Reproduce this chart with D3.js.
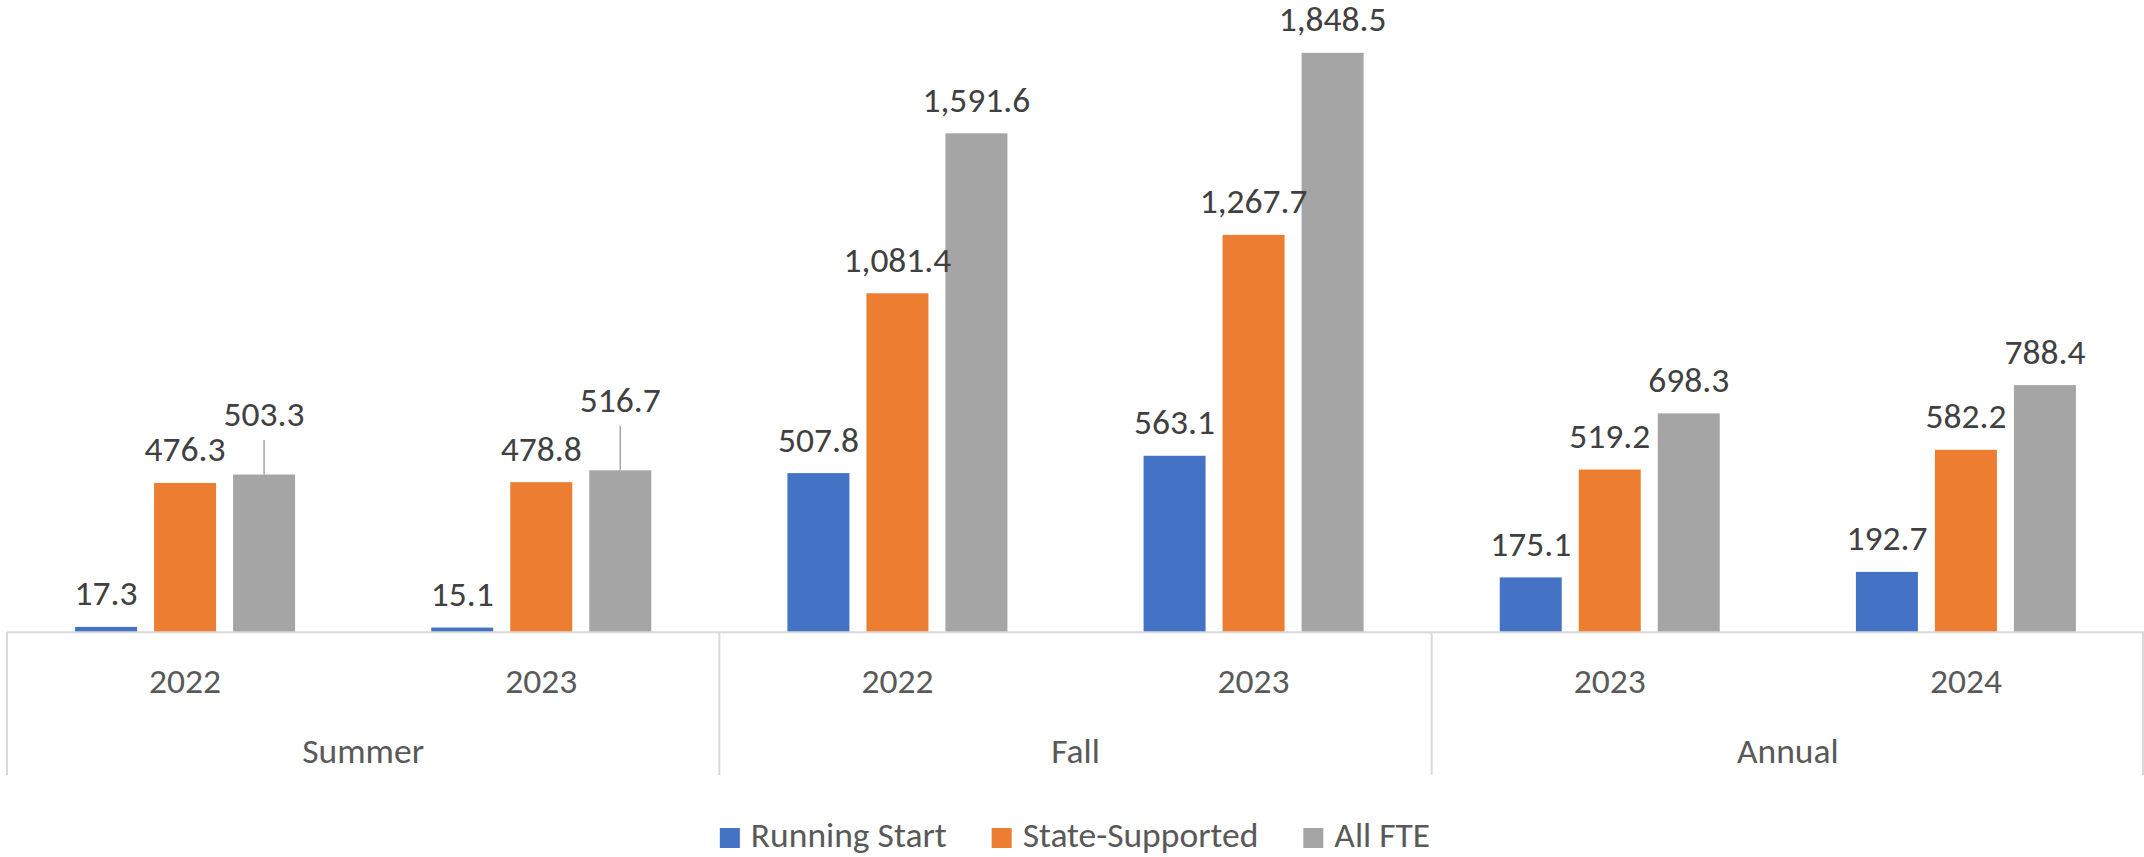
<!DOCTYPE html>
<html>
<head>
<meta charset="utf-8">
<script src="https://cdn.jsdelivr.net/npm/d3@7"></script>
<style>
  html, body { margin: 0; padding: 0; background: #ffffff; }
  svg { display: block; }
  text { font-family: Carlito, "Liberation Sans", Arial, sans-serif; }
</style>
</head>
<body>
<svg id="chart" width="2144" height="857"></svg>
<script>
// ---- data ----
const groups = ["Summer", "Summer", "Fall", "Fall", "Annual", "Annual"];
const years = ["2022", "2023", "2022", "2023", "2023", "2024"];
const seriesNames = ["Running Start", "State-Supported", "All FTE"];
const runningStart = [17.3, 15.1, 507.8, 563.1, 175.1, 192.7];
const stateSupported = [476.3, 478.8, 1081.4, 1267.7, 519.2, 582.2];
const allFTE = [503.3, 516.7, 1591.6, 1848.5, 698.3, 788.4];
const groupNames = ["Summer", "Fall", "Annual"];

// ---- styles ----
const colors = ["#4472C4", "#ED7D31", "#A5A5A5"];
const fontSize = 35.5;
const labelColor = "#404040";
const axisTextColor = "#595959";
const axisLineColor = "#D9D9D9";

const seriesValues = [runningStart, stateSupported, allFTE];
const cats = years.map((y, i) => i);

const svg = d3.select("#chart");

const left = 7, right = 2144, baseY = 632.3, topY = 5.3;

const x0 = d3.scaleBand().domain(cats).range([left, right]).paddingInner(0).paddingOuter(0);
const x1 = d3.scaleBand().domain(d3.range(seriesNames.length)).range([-110, 110]).paddingInner(17 / 79).paddingOuter(0);
const y = d3.scaleLinear().domain([0, 2000]).range([baseY, topY]);

const fmt = d3.format(",.1f");

// bars
const catG = svg.append("g").selectAll("g").data(cats).join("g")
  .attr("transform", d => `translate(${x0(d) + x0.bandwidth() / 2},0)`);

catG.selectAll("rect").data(c => seriesValues.map((arr, s) => ({ c, s, v: arr[c] })))
  .join("rect")
  .attr("x", d => x1(d.s))
  .attr("width", x1.bandwidth())
  .attr("y", d => y(d.v))
  .attr("height", d => baseY - y(d.v))
  .attr("fill", d => colors[d.s]);

// data labels (some lifted with leader lines where they would overlap)
const lifted = { "0-2": 27, "1-2": 37 };
catG.each(function (c) {
  const g = d3.select(this);
  seriesValues.forEach((arr, s) => {
    const v = arr[c];
    const cx = x1(s) + x1.bandwidth() / 2;
    const lift = lifted[c + "-" + s] || 0;
    const base = y(v) - 21.6 - lift;
    if (lift) {
      g.append("line")
        .attr("x1", cx).attr("x2", cx)
        .attr("y1", base + 14).attr("y2", y(v))
        .attr("stroke", "#A6A6A6").attr("stroke-width", 1.5);
    }
    g.append("text")
      .attr("x", cx).attr("y", base)
      .attr("text-anchor", "middle")
      .attr("font-size", fontSize)
      .attr("fill", labelColor)
      .text(fmt(v));
  });
});

// axis line
const axisG = svg.append("g");
axisG.append("line")
  .attr("x1", left).attr("x2", right)
  .attr("y1", baseY).attr("y2", baseY)
  .attr("stroke", axisLineColor).attr("stroke-width", 2);

// group dividers
const groupBounds = [];
groupNames.forEach(gn => {
  const idx = cats.filter(i => groups[i] === gn);
  const gx0 = x0(idx[0]);
  const gx1 = x0(idx[idx.length - 1]) + x0.bandwidth();
  groupBounds.push([gn, gx0, gx1]);
});
const dividerXs = [left].concat(groupBounds.map(b => b[2]));
axisG.selectAll("line.div").data(dividerXs).join("line")
  .attr("class", "div")
  .attr("x1", d => Math.min(d, right - 1)).attr("x2", d => Math.min(d, right - 1))
  .attr("y1", baseY).attr("y2", 775)
  .attr("stroke", axisLineColor).attr("stroke-width", 2);

// category labels
axisG.selectAll("text.cat").data(cats).join("text")
  .attr("class", "cat")
  .attr("x", d => x0(d) + x0.bandwidth() / 2)
  .attr("y", 693.3)
  .attr("text-anchor", "middle")
  .attr("font-size", fontSize)
  .attr("fill", axisTextColor)
  .text(d => years[d]);

// group labels
axisG.selectAll("text.grp").data(groupBounds).join("text")
  .attr("class", "grp")
  .attr("x", d => (d[1] + d[2]) / 2)
  .attr("y", 763.3)
  .attr("text-anchor", "middle")
  .attr("font-size", fontSize)
  .attr("fill", axisTextColor)
  .text(d => d[0]);

// legend
const legendG = svg.append("g");
const items = legendG.selectAll("g").data(seriesNames).join("g");
items.append("rect").attr("width", 20).attr("height", 20).attr("y", 828)
  .attr("fill", (d, i) => colors[i]);
items.append("text").attr("x", 31).attr("y", 846.7)
  .attr("font-size", fontSize).attr("fill", axisTextColor).text(d => d);
let widths = [];
items.each(function () { widths.push(31 + d3.select(this).select("text").node().getComputedTextLength()); });
const gap = 45;
const total = d3.sum(widths) + gap * (widths.length - 1);
let lx = 1075 - total / 2;
items.each(function (d, i) {
  d3.select(this).attr("transform", `translate(${lx},0)`);
  lx += widths[i] + gap;
});
</script>
</body>
</html>
